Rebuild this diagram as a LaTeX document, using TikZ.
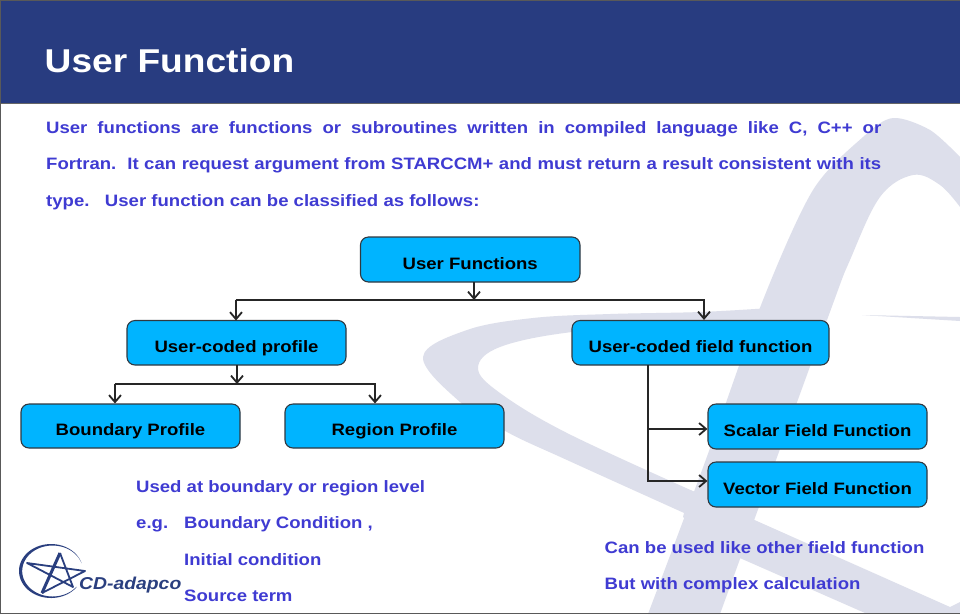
\documentclass[tikz,border=0pt]{standalone}
\usepackage{fontspec}
\setmainfont[FakeStretch=1.125]{Liberation Sans}
\usetikzlibrary{arrows.meta}
\definecolor{hdr}{HTML}{283C80}
\definecolor{wm}{HTML}{DDDFEB}
\definecolor{bluetxt}{HTML}{3F3BD2}
\definecolor{boxfill}{HTML}{00B4FF}
\definecolor{boxline}{HTML}{303840}
\definecolor{logoc}{HTML}{2A3F7F}
\tikzset{
  x=1pt,y=-1pt,
  wmfill/.style={fill=wm,draw=none},
  flowbox/.style={draw=boxline,line width=1.1pt,fill=boxfill,rounded corners=8pt,inner sep=0pt,
    text=black,font=\fontsize{16.5}{20}\selectfont\bfseries},
  bodytext/.style={anchor=base west,inner sep=0pt,text=bluetxt,font=\fontsize{16.5}{20}\selectfont\bfseries},
  conn/.style={draw=black!85,line width=2pt},
  arrowconn/.style={conn,-{Straight Barb[length=7pt,width=12pt,line width=1.8pt]}},
}
\newcommand{\flowbox}[6]{\node[flowbox,minimum width=#4 pt-#2 pt,minimum height=#5 pt-#3 pt] (#1) at ({(#2+#4)/2},{(#3+#5)/2}) {\smash{\raisebox{-9.5pt}{#6}}};}
\begin{document}
\begin{tikzpicture}
\useasboundingbox (0,0) rectangle (960,614);
\fill[white] (0,0) rectangle (960,614);
% watermark
\fill[wmfill] plot[smooth,tension=0.5] coordinates {(648,614)(705,462)(763,300)(813,190)(863,137)(893,118)(930,130)(960,157)}
  -- plot[smooth,tension=0.6] coordinates {(960,207)(940,185)(913,175)(880,197)(850,260)(827,320)(720,614)} -- cycle;
\fill[wmfill] plot[smooth,tension=0.6] coordinates {(770,308)(700,312)(610,314)(533,318)(467,330)(423,357)(460,402)(507,432)(567,460)(693,517)}
  -- (720,517) -- (720,492) -- plot[smooth,tension=0.6] coordinates {(695,492)(567,433)(500,393)(478,368)(500,347)(572,332)(700,322)(800,320)} -- cycle;
\fill[wmfill] (690,490) -- (750,518) -- (950,607) -- (960,602) -- (960,614) -- (865,613) -- (733,555) -- (683,517) -- cycle;
\fill[wmfill] (862,315) -- (960,317) -- (960,321) -- cycle;
% header
\fill[hdr] (0,0) rectangle (960,103);
\draw[gray!80!black,line width=0.8pt] (0,103.5) -- (960,103.5);
\node[anchor=base west,inner sep=0pt,text=white,font=\fontsize{33}{38}\selectfont\bfseries] (title) at (44.5,72) {User Function};
% body
\node[bodytext] (l1) at (46,133) {\makebox[835pt][s]{User functions are functions or subroutines written in compiled language like C, C++ or}};
\node[bodytext] (l2) at (46,169.5) {\makebox[835pt][s]{Fortran.\ \ It can request argument from STARCCM+ and must return a result consistent with its}};
\node[bodytext] (l3) at (46,206) {type.\ \ \ User function can be classified as follows:};
% boxes
\flowbox{uf}{360.5}{237}{580}{282}{User Functions}
\flowbox{prof}{127}{320.5}{346}{365}{User-coded profile}
\flowbox{field}{572}{320.5}{829}{365}{User-coded field function}
\flowbox{bp}{21}{404}{240}{448}{Boundary Profile}
\flowbox{rp}{285}{404}{504}{448}{Region Profile}
\flowbox{sf}{708}{404}{927}{449}{Scalar Field Function}
\flowbox{vf}{708}{462}{927}{507}{Vector Field Function}
% connector anchors
\coordinate (ufb) at (474,282);
\coordinate (bus1) at (474,300);
\coordinate (pb) at (237,365);
\coordinate (bus2) at (237,384);
\coordinate (fb) at (648,365);
\coordinate (fj) at (648,429);
\draw[conn] (235.5,300) -- (704.5,300);
\draw[arrowconn] (ufb) -- (bus1);
\draw[arrowconn] (236,300) -- (236,320.5);
\draw[arrowconn] (704,300) -- (field.north -| 704,0);
\draw[conn] (114.5,384) -- (375.5,384);
\draw[arrowconn] (pb) -- (bus2);
\draw[arrowconn] (115,384) -- (bp.north -| 115,0);
\draw[arrowconn] (375,384) -- (rp.north -| 375,0);
\draw[conn] (fb) -- (648,481);
\draw[arrowconn] (fj) -- (sf.west |- fj);
\draw[arrowconn] (647,481) -- (vf.west |- 647,481);
% lower text
\node[bodytext] (u1) at (136,492) {Used at boundary or region level};
\node[bodytext] (u2) at (136,528.5) {e.g.};
\node[bodytext] (u3) at (184,528.5) {Boundary Condition ,};
\node[bodytext] (u4) at (184,565) {Initial condition};
\node[bodytext] (u5) at (184,601) {Source term};
\node[bodytext] (c1) at (604.5,553) {Can be used like other field function};
\node[bodytext] (c2) at (604.5,589) {But with complex calculation};
% logo
\fill[logoc] plot[domain=-18:-322,samples=60] ({51+32*cos(\x)},{571+27*sin(\x)})
  -- plot[domain=-322:-18,samples=60] ({52.6+30.4*cos(\x)},{571+25.5*sin(\x)}) -- cycle;
\draw[logoc,line width=3pt] (60,553) -- (42,593);
\draw[logoc,line width=1.8pt,line join=round] (42,593) -- (85,571) -- (27,563) -- (73,587) -- (60,553);
\node[anchor=base west,inner sep=0pt,text=logoc,font=\fontsize{17.2}{22}\selectfont\bfseries\itshape] (logo) at (79,589) {CD-adapco};
% frame
\draw[gray!70!black,line width=1.5pt] (0.5,614) -- (0.5,0.5) -- (960,0.5);
\draw[gray!70!black,line width=1.5pt] (0,613.5) -- (960,613.5);
\end{tikzpicture}
\end{document}
